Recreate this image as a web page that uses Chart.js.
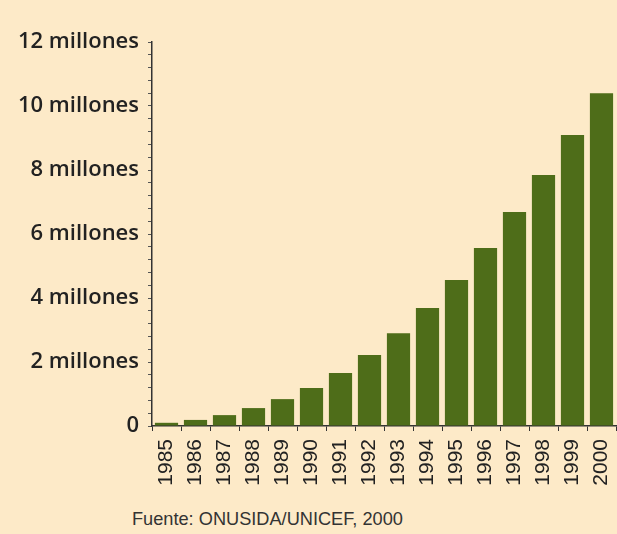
<!DOCTYPE html>
<html>
<head>
<meta charset="utf-8">
<script src="https://cdn.jsdelivr.net/npm/chart.js@4"></script>
<style>
  html, body { margin: 0; padding: 0; background: #fdeac8; }
  body { width: 617px; height: 534px; position: relative; overflow: hidden; }
  #wrap { position: absolute; left: 0; top: 0; width: 617px; height: 500px; }
  #fuente { position: absolute; left: 132px; top: 509px; font-family: "Liberation Sans", Arial, sans-serif; font-size: 18.2px; color: #333; }
</style>
</head>
<body>
<div id="wrap"><canvas id="sidaChart"></canvas></div>
<div id="fuente">Fuente: ONUSIDA/UNICEF, 2000</div>
<script>
// años y huérfanos acumulados (millones)
const years = ['1985', '1986', '1987', '1988', '1989', '1990', '1991', '1992',
    '1993', '1994', '1995', '1996', '1997', '1998', '1999', '2000'];
const orphans = [0.10, 0.19, 0.34, 0.56, 0.84, 1.19, 1.66, 2.22,
    2.90, 3.69, 4.56, 5.56, 6.69, 7.84, 9.09, 10.40];
const yMax = 12;
const labelStep = 2;
const minorStep = 0.4;

document.addEventListener('DOMContentLoaded', () => {
    const ctx = document.getElementById('sidaChart').getContext('2d');
    new Chart(ctx, {
        type: 'bar',
        data: {
            labels: years,
            datasets: [{
                data: orphans,
                backgroundColor: '#4e6d19',
                borderWidth: 0,
                barPercentage: 0.8,
                categoryPercentage: 1.0
            }]
        },
        options: {
            responsive: true,
            maintainAspectRatio: false,
            animation: false,
            layout: { padding: { top: 42, right: 1, left: 0, bottom: 0 } },
            plugins: { legend: { display: false }, tooltip: { enabled: false } },
            scales: {
                x: {
                    grid: { offset: true, drawOnChartArea: false, tickLength: 5, color: '#333' },
                    border: { color: '#333', width: 1.5 },
                    ticks: {
                        minRotation: 90, maxRotation: 90, padding: 8, color: '#222',
                        font: { family: 'Liberation Sans', size: 21 }
                    },
                    afterFit: (scale) => {
                        scale.height = 74;
                        scale.paddingRight = 0;
                        scale.paddingLeft = 0;
                    }
                },
                y: {
                    min: 0,
                    max: yMax,
                    grid: { drawOnChartArea: false, tickLength: 4, color: '#555' },
                    border: { color: '#333', width: 1.5 },
                    ticks: {
                        stepSize: minorStep,
                        autoSkip: false,
                        padding: 9,
                        color: '#222',
                        font: { family: 'Open Sans', size: 22, weight: '600' },
                        callback: (v) => {
                            const r = Math.round(v * 10) / 10;
                            if (Math.abs(r / labelStep - Math.round(r / labelStep)) > 1e-6) return '';
                            return r === 0 ? '0' : r + ' millones';
                        }
                    },
                    afterFit: (scale) => { scale.width = 152; }
                }
            }
        }
    });
});
</script>
</body>
</html>
